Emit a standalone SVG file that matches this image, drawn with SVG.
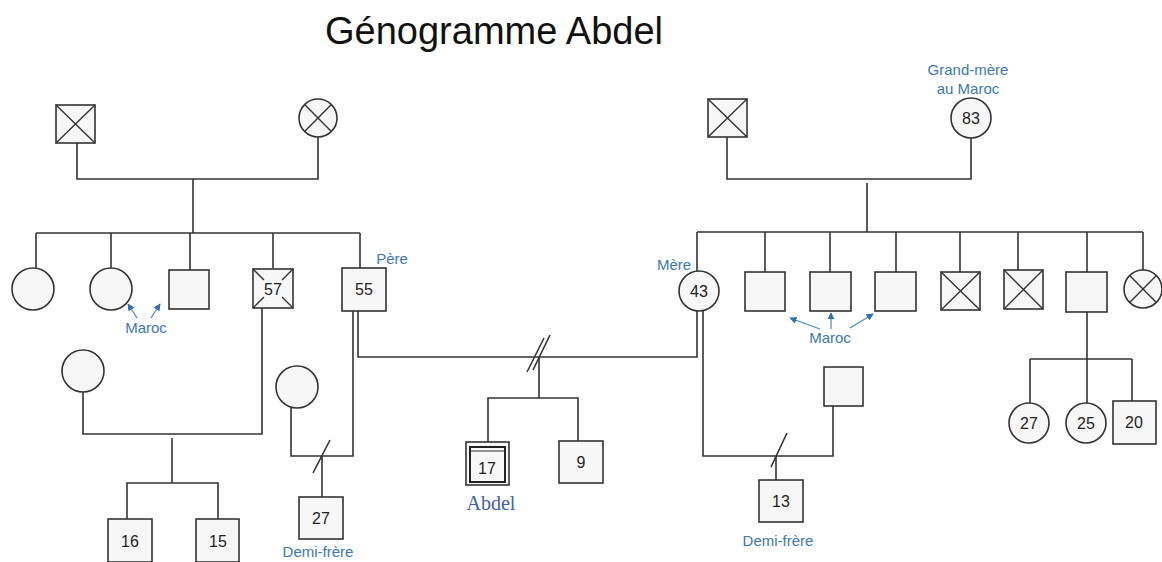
<svg xmlns="http://www.w3.org/2000/svg" width="1162" height="562" viewBox="0 0 1162 562">
<defs>
<style>
.sq{fill:#f7f7f7;stroke:#333;stroke-width:1.6}
.ci{fill:#f7f7f7;stroke:#333;stroke-width:1.6}
.x{stroke:#333;stroke-width:1.4;fill:none}
.ln{stroke:#333;stroke-width:1.6;fill:none}
.num{font-family:"Liberation Sans",Arial,sans-serif;font-size:16px;fill:#222;text-anchor:middle}
.lbl{font-family:"Liberation Sans",Arial,sans-serif;font-size:15px;fill:#3d78b0;text-anchor:middle}
.arr{stroke:#4a86bd;stroke-width:1.2;fill:none;marker-end:url(#ah)}
</style>
<marker id="ah" viewBox="0 0 10 10" refX="9" refY="5" markerWidth="6" markerHeight="6" orient="auto">
<path d="M0,0 L10,5 L0,10 z" fill="#2f6fa8"/>
</marker>
</defs>
<rect width="1162" height="562" fill="#ffffff"/>
<text x="494" y="44" font-family="Liberation Sans,Arial,sans-serif" font-size="38" fill="#111" text-anchor="middle">Génogramme Abdel</text>

<g id="connectors">
<polyline class="ln" points="77,143 77,179 318,179 318,137"/>
<line class="ln" x1="193" y1="179" x2="193" y2="233"/>
<line class="ln" x1="36" y1="233" x2="360" y2="233"/>
<line class="ln" x1="36" y1="233" x2="36" y2="268"/>
<line class="ln" x1="111" y1="233" x2="111" y2="268"/>
<line class="ln" x1="190" y1="233" x2="190" y2="270"/>
<line class="ln" x1="273" y1="233" x2="273" y2="268"/>
<line class="ln" x1="360" y1="233" x2="360" y2="268"/>
<polyline class="ln" points="83,392 83,434 262,434 262,308"/>
<line class="ln" x1="172" y1="438" x2="172" y2="483"/>
<polyline class="ln" points="127,519 127,483 218,483 218,519"/>
<polyline class="ln" points="291,408 291,456 353,456 353,311"/>
<line class="ln" x1="313" y1="473" x2="330" y2="440"/>
<line class="ln" x1="322" y1="456" x2="322" y2="497"/>
<polyline class="ln" points="358,311 358,357 697,357 697,311"/>
<line class="ln" x1="527" y1="372" x2="544" y2="338"/>
<line class="ln" x1="533" y1="370" x2="550" y2="335"/>
<line class="ln" x1="539" y1="357" x2="539" y2="398"/>
<polyline class="ln" points="488,442 488,398 578,398 578,441"/>
<polyline class="ln" points="703,311 703,456 833,456 833,406"/>
<line class="ln" x1="771" y1="467" x2="787" y2="433"/>
<line class="ln" x1="776" y1="456" x2="776" y2="480"/>
<polyline class="ln" points="727,137 727,179 971,179 971,138"/>
<line class="ln" x1="867" y1="183" x2="867" y2="232"/>
<line class="ln" x1="697" y1="232" x2="1143" y2="232"/>
<line class="ln" x1="697" y1="232" x2="697" y2="271"/>
<line class="ln" x1="765" y1="232" x2="765" y2="272"/>
<line class="ln" x1="830" y1="232" x2="830" y2="272"/>
<line class="ln" x1="896" y1="232" x2="896" y2="272"/>
<line class="ln" x1="960" y1="232" x2="960" y2="272"/>
<line class="ln" x1="1018" y1="232" x2="1018" y2="270"/>
<line class="ln" x1="1087" y1="232" x2="1087" y2="272"/>
<line class="ln" x1="1143" y1="232" x2="1143" y2="270"/>
<line class="ln" x1="1087" y1="312" x2="1087" y2="359"/>
<line class="ln" x1="1030" y1="359" x2="1132" y2="359"/>
<line class="ln" x1="1030" y1="359" x2="1030" y2="403"/>
<line class="ln" x1="1087" y1="359" x2="1087" y2="403"/>
<line class="ln" x1="1132" y1="359" x2="1132" y2="401"/>
</g>

<g id="gp-left-m"><rect class="sq" x="56" y="105" width="39" height="38"/><path class="x" d="M56,105 L95,143 M95,105 L56,143"/></g>
<g id="gp-left-f"><circle class="ci" cx="318" cy="118" r="19"/><path class="x" d="M304.6,104.6 L331.4,131.4 M331.4,104.6 L304.6,131.4"/></g>

<g id="aunt1"><circle class="ci" cx="33" cy="289" r="21"/></g>
<g id="aunt2"><circle class="ci" cx="111" cy="289" r="21"/></g>
<g id="uncle1"><rect class="sq" x="169" y="270" width="40" height="39"/></g>
<g id="uncle57"><rect class="sq" x="253" y="269" width="40" height="39"/><path class="x" d="M253,269 L264,280 M293,269 L282,280 M253,308 L264,297 M293,308 L282,297"/><text class="num" x="273" y="295">57</text></g>
<g id="pere"><rect class="sq" x="342" y="268" width="44" height="43"/><text class="num" x="364" y="295">55</text><text class="lbl" x="392" y="264">Père</text></g>
<g id="maroc-left">
<text class="lbl" x="146" y="333">Maroc</text>
<line class="arr" x1="137" y1="318" x2="128" y2="304"/>
<line class="arr" x1="151" y1="318" x2="160" y2="304"/>
</g>

<g id="wife57"><circle class="ci" cx="83" cy="371" r="21"/></g>
<g id="c16"><rect class="sq" x="108" y="519" width="44" height="43"/><text class="num" x="130" y="547">16</text></g>
<g id="c15"><rect class="sq" x="196" y="519" width="43" height="43"/><text class="num" x="218" y="547">15</text></g>

<g id="ex-pere"><circle class="ci" cx="297" cy="387" r="21"/></g>
<g id="c27"><rect class="sq" x="299" y="497" width="44" height="42"/><text class="num" x="321" y="524">27</text><text class="lbl" x="318" y="557">Demi-frère</text></g>

<g id="abdel">
<rect x="466" y="442" width="43" height="43" fill="#f7f7f7" stroke="#333" stroke-width="1.6"/>
<rect x="470" y="447" width="35" height="35" fill="#f7f7f7" stroke="#222" stroke-width="2"/>
<line x1="471" y1="451" x2="504" y2="451" stroke="#333" stroke-width="1.2"/>
<text class="num" x="487" y="474">17</text>
<text x="491" y="510" font-family="Liberation Serif,Times New Roman,serif" font-size="20" fill="#3c5fa6" text-anchor="middle">Abdel</text>
</g>
<g id="c9"><rect class="sq" x="559" y="441" width="44" height="42"/><text class="num" x="581" y="468">9</text></g>

<g id="mere"><circle class="ci" cx="699" cy="291" r="20"/><text class="num" x="699" y="297">43</text><text class="lbl" x="674" y="270">Mère</text></g>

<g id="gp-right-m"><rect class="sq" x="708" y="99" width="39" height="38"/><path class="x" d="M708,99 L747,137 M747,99 L708,137"/></g>
<g id="gp-right-f"><circle class="ci" cx="971" cy="118" r="20"/><text class="num" x="971" y="124">83</text><text class="lbl" x="968" y="75">Grand-mère</text><text class="lbl" x="968" y="94">au Maroc</text></g>

<g id="ru1"><rect class="sq" x="745" y="272" width="40" height="39"/></g>
<g id="ru2"><rect class="sq" x="810" y="272" width="41" height="39"/></g>
<g id="ru3"><rect class="sq" x="875" y="272" width="41" height="39"/></g>
<g id="ru4"><rect class="sq" x="941" y="272" width="39" height="38"/><path class="x" d="M941,272 L980,310 M980,272 L941,310"/></g>
<g id="ru5"><rect class="sq" x="1004" y="270" width="39" height="39"/><path class="x" d="M1004,270 L1043,309 M1043,270 L1004,309"/></g>
<g id="ru6"><rect class="sq" x="1066" y="272" width="41" height="40"/></g>
<g id="ra7"><circle class="ci" cx="1143" cy="289" r="19"/><path class="x" d="M1129.6,275.6 L1156.4,302.4 M1156.4,275.6 L1129.6,302.4"/></g>
<g id="maroc-right">
<text class="lbl" x="830" y="343">Maroc</text>
<line class="arr" x1="820" y1="329" x2="790" y2="318"/>
<line class="arr" x1="831" y1="329" x2="831" y2="313"/>
<line class="arr" x1="850" y1="328" x2="873" y2="314"/>
</g>

<g id="ex-mere"><rect class="sq" x="824" y="367" width="39" height="39"/></g>
<g id="c13"><rect class="sq" x="759" y="480" width="44" height="42"/><text class="num" x="781" y="507">13</text><text class="lbl" x="778" y="546">Demi-frère</text></g>

<g id="k27"><circle class="ci" cx="1029" cy="423" r="20"/><text class="num" x="1029" y="429">27</text></g>
<g id="k25"><circle class="ci" cx="1086" cy="423" r="20"/><text class="num" x="1086" y="429">25</text></g>
<g id="k20"><rect class="sq" x="1113" y="401" width="43" height="43"/><text class="num" x="1134" y="428">20</text></g>
</svg>
